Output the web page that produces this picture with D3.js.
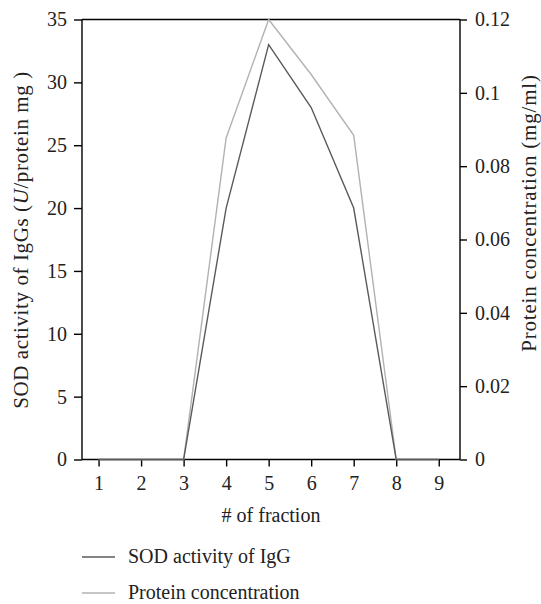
<!DOCTYPE html>
<html>
<head>
<meta charset="utf-8">
<script src="https://cdn.jsdelivr.net/npm/d3@7"></script>
<style>
  body { margin: 0; background: #fff; }
  text { font-family: "Liberation Serif", "DejaVu Serif", serif; }
</style>
</head>
<body>
<div id="chart"></div>
<script>
var fractions = [1, 2, 3, 4, 5, 6, 7, 8, 9]
var sodActivity = [0, 0, 0, 20, 33, 28, 20, 0, 0]
var proteinConc = [0, 0, 0, 0.0877, 0.12, 0.105, 0.0884, 0, 0]
var leftTicks = [0, 5, 10, 15, 20, 25, 30, 35]
var rightTicks = [0, 0.02, 0.04, 0.06, 0.08, 0.1, 0.12]
var seriesNames = ["SOD activity of IgG", "Protein concentration"]
var seriesColors = ["#5a5a5a", "#b2b2b2"]

var width = 541,
    height = 604,
    plotLeft = 82,
    plotRight = 460,
    plotTop = 19.5,
    plotBottom = 459.5,
    fontSize = 20

var svg = d3.select("#chart").append("svg")
    .attr("width", width)
    .attr("height", height)

var x = d3.scaleLinear().domain([0.61, 9.5]).range([plotLeft, plotRight])
var yL = d3.scaleLinear().domain([0, 35]).range([plotBottom, plotTop])
var yR = d3.scaleLinear().domain([0, 0.12]).range([plotBottom, plotTop])

// top frame line
svg.append("line")
    .attr("x1", plotLeft).attr("x2", plotRight)
    .attr("y1", plotTop).attr("y2", plotTop)
    .attr("stroke", "#000").attr("stroke-width", 1.4)

var gx = svg.append("g")
    .attr("transform", "translate(0," + plotBottom + ")")
    .call(d3.axisBottom(x).tickValues(fractions).tickSize(7).tickPadding(9).tickFormat(d3.format("d")))

var gl = svg.append("g")
    .attr("transform", "translate(" + plotLeft + ",0)")
    .call(d3.axisLeft(yL).tickValues(leftTicks).tickSize(8).tickPadding(7))

var gr = svg.append("g")
    .attr("transform", "translate(" + plotRight + ",0)")
    .call(d3.axisRight(yR).tickValues(rightTicks).tickSize(7).tickPadding(8)
        .tickFormat(function(d) { return d === 0 ? "0" : String(+d.toFixed(2)) }))

;[gx, gl, gr].forEach(function(g) {
    g.select(".domain").attr("stroke", "#000").attr("stroke-width", 1.4)
    g.selectAll(".tick line").attr("stroke", "#000").attr("stroke-width", 1.4)
    g.selectAll("text")
        .attr("fill", "#222")
        .style("font-family", "Liberation Serif, serif")
        .style("font-size", fontSize + "px")
})
gl.select(".domain").attr("d", "M0," + plotBottom + "V" + plotTop)
gr.select(".domain").attr("d", "M0," + plotBottom + "V" + plotTop)
gx.select(".domain").attr("d", "M" + plotLeft + ",0H" + plotRight)

var lineL = d3.line()
    .x(function(d, i) { return x(fractions[i]) })
    .y(function(d) { return yL(d) })
var lineR = d3.line()
    .x(function(d, i) { return x(fractions[i]) })
    .y(function(d) { return yR(d) })

svg.append("path")
    .datum(proteinConc)
    .attr("d", lineR)
    .attr("fill", "none")
    .attr("stroke", seriesColors[1])
    .attr("stroke-width", 1.4)

svg.append("path")
    .datum(sodActivity)
    .attr("d", lineL)
    .attr("fill", "none")
    .attr("stroke", seriesColors[0])
    .attr("stroke-width", 1.4)

// axis titles
var lt = svg.append("text")
    .attr("transform", "translate(28,240) rotate(-90)")
    .attr("text-anchor", "middle")
    .attr("fill", "#222")
    .style("font-size", "21px")
    .style("letter-spacing", "0.6px")
lt.append("tspan").text("SOD activity of IgGs (")
lt.append("tspan").attr("font-style", "italic").text("U")
lt.append("tspan").text("/protein mg )")

svg.append("text")
    .attr("transform", "translate(536,213) rotate(-90)")
    .attr("text-anchor", "middle")
    .attr("fill", "#222")
    .style("font-size", "21px")
    .style("letter-spacing", "0.8px")
    .text("Protein concentration (mg/ml)")

svg.append("text")
    .attr("x", (plotLeft + plotRight) / 2)
    .attr("y", 522)
    .attr("text-anchor", "middle")
    .attr("fill", "#222")
    .style("font-size", fontSize + "px")
    .text("# of fraction")

// legend
var legend = svg.selectAll(".leg")
    .data(seriesNames)
    .enter().append("g")
    .attr("transform", function(d, i) { return "translate(82," + (557 + i * 36) + ")" })

legend.append("line")
    .attr("x1", 0).attr("x2", 33)
    .attr("stroke", function(d, i) { return seriesColors[i] })
    .attr("stroke-width", 1.4)

legend.append("text")
    .attr("x", 46)
    .attr("y", 6)
    .attr("fill", "#222")
    .style("font-size", fontSize + "px")
    .text(function(d) { return d })
</script>
</body>
</html>
